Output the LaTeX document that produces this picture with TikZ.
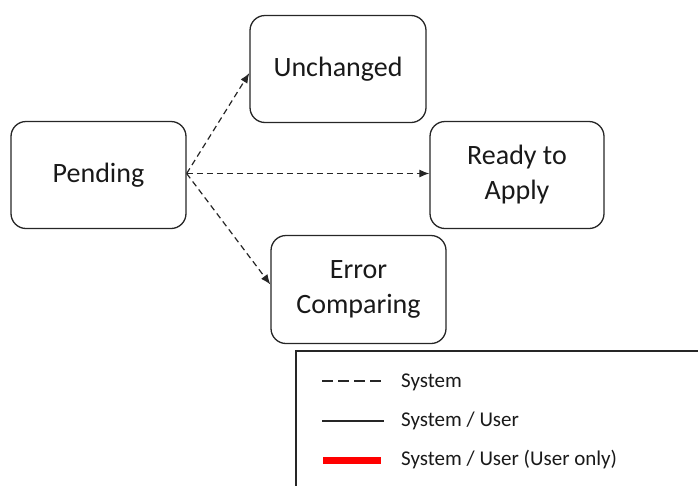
\documentclass[tikz,border=0pt]{standalone}
\usepackage{fontspec}
\setmainfont{Carlito}
\usetikzlibrary{arrows.meta}
\begin{document}
\begin{tikzpicture}[x=1pt,y=-1pt,
  state/.style={draw=black!85, line width=1.3pt, rounded corners=15pt, minimum width=175pt, minimum height=107pt, align=center, font=\fontsize{28}{35}\selectfont, text=black!90, inner sep=0pt},
  sysarrow/.style={dashed, dash pattern=on 6pt off 4pt, line width=1.2pt, draw=black!85, -{Latex[length=10pt,width=8pt]}},
  legtext/.style={anchor=west, font=\fontsize{21}{25}\selectfont, text=black!90, inner sep=0pt}]
\useasboundingbox (0,0) rectangle (698,485);
\clip (0,0) rectangle (698,485);
\node[state] (pending) at (98.5,175) {Pending};
\node[state, minimum width=176pt] (unchanged) at (338,69) {Unchanged};
\node[state, minimum width=174pt] (ready) at (517,175) {Ready to\\Apply};
\node[state, minimum height=108pt] (error) at (358.5,289.5) {Error\\Comparing};
\draw[sysarrow] ([yshift=1.5pt]pending.east) -- ([yshift=-4pt]unchanged.west);
\draw[sysarrow] ([yshift=1.5pt]pending.east) -- ([yshift=1.5pt]ready.west);
\draw[sysarrow] ([yshift=1.5pt]pending.east) -- ([yshift=5pt]error.west);
% legend
\draw[black!85, line width=1.3pt] (296,351) rectangle (720,500);
\coordinate (l1a) at (322,381); \coordinate (l1b) at (385,381);
\coordinate (l2a) at (322,421); \coordinate (l2b) at (384,421);
\coordinate (l3a) at (323,460); \coordinate (l3b) at (381,460);
\draw[black!85, line width=1.1pt, dash pattern=on 11pt off 5pt] (l1a) -- (l1b);
\draw[black!85, line width=1.1pt] (l2a) -- (l2b);
\draw[red, line width=7pt] (l3a) -- (l3b);
\node[legtext] (t1) at (401,382) {System};
\node[legtext] (t2) at (401,421) {System / User};
\node[legtext] (t3) at (401,460) {System / User (User only)};
\end{tikzpicture}
\end{document}
